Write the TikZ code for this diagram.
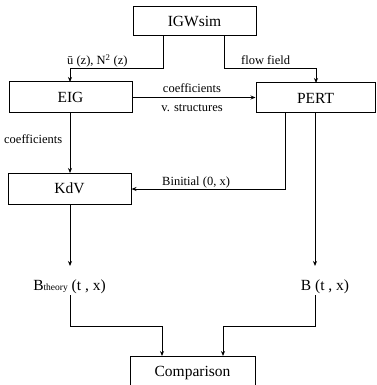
\documentclass[tikz,border=0pt]{standalone}
\usepackage{fontspec}
\setmainfont{Liberation Serif}
\usetikzlibrary{arrows.meta}
\begin{document}
\begin{tikzpicture}[x=1pt,y=-1pt,
  box/.style={draw,line width=1pt,inner sep=0pt,font=\fontsize{15.5}{17}\selectfont},
  lbl/.style={inner sep=0pt,font=\fontsize{12.5}{14}\selectfont},
  big/.style={inner sep=0pt,font=\fontsize{15.5}{17}\selectfont},
  conn/.style={line width=0.9pt,-{Stealth[length=5pt,width=4pt]}}]
\useasboundingbox (0,0) rectangle (376,385);
\clip (0,0) rectangle (376,385);
\node[box,minimum width=123pt,minimum height=29pt] (igw) at (194.5,21.5) {IGWsim};
\node[box,minimum width=123pt,minimum height=31pt] (eig) at (70.5,97.5) {EIG};
\node[box,minimum width=119pt,minimum height=30pt] (pert) at (315.5,98) {PERT};
\node[box,minimum width=123pt,minimum height=31pt] (kdv) at (69.5,188.5) {KdV};
\node[box,minimum width=125pt,minimum height=40pt,anchor=north] (comp) at (192.5,356) {};
\node[big] (comptext) at (192.5,373) {Comparison};
\node[big,anchor=base] (bth) at (69.5,290) {B{\fontsize{9.5}{10}\selectfont theory} (t , x)};
\node[big,anchor=base] (b) at (325,290) {B (t , x)};
% coordinates
\coordinate (igwL) at (163,36);
\coordinate (igwR) at (224,36);
\coordinate (pertA) at (285,113);
\coordinate (pertB) at (315,113);
\coordinate (bTop) at (315,266);
\coordinate (bBot) at (315,295);
\coordinate (bthTop) at (70,266);
\coordinate (bthBot) at (70,295);
\coordinate (compL) at (162,356);
\coordinate (compR) at (223,356);
% connectors
\draw[conn] (igwL) |- (70,68) -- (70,82);
\draw[conn] (igwR) |- (316,68) -- (316,83);
\draw[conn] (eig.east) -- (pert.west |- eig.east);
\draw[conn] (70,113) -- (70,173);
\draw[conn] (pertA) |- (kdv.east |- 0,189);
\draw[conn] (pertB) -- (bTop);
\draw[conn] (70,204) -- (bthTop);
\draw[conn] (bthBot) |- (162,326) -- (compL);
\draw[conn] (bBot) |- (223,326) -- (compR);
% labels
\node[lbl,anchor=base west] (l1) at (67,65) {\=u (z), N\textsuperscript{2} (z)};
\node[lbl,anchor=base west] (l2) at (241,65) {flow field};
\node[lbl,anchor=base] (l3) at (192,93) {coefficients};
\node[lbl,anchor=base] (l4) at (192,112) {v. structures};
\node[lbl,anchor=base west] (l5) at (4,143) {coefficients};
\node[lbl,anchor=base west] (l6) at (162,185) {Binitial (0, x)};
\end{tikzpicture}
\end{document}
